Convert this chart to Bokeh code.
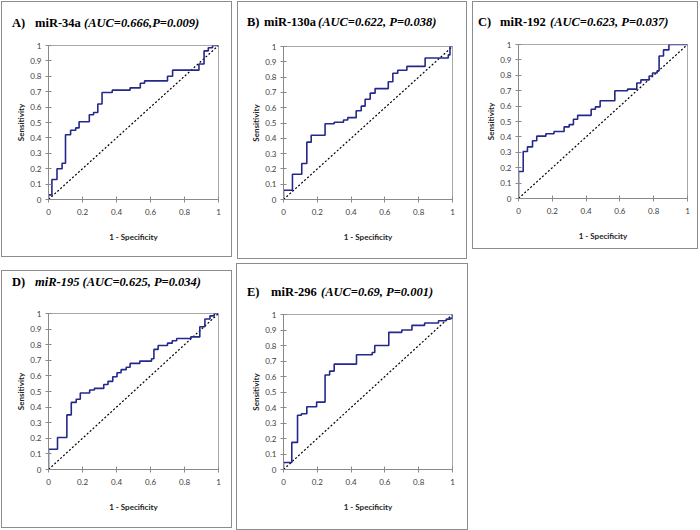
from bokeh.plotting import figure
from bokeh.layouts import column, row
from bokeh.models import Range1d, FixedTicker, NumeralTickFormatter, Spacer, Div
from bokeh.embed import file_html
from bokeh.resources import INLINE

# ---------------- data ----------------
a_fpr = [0, 0, 0.02, 0.05, 0.08, 0.10, 0.13, 0.16, 0.18, 0.24, 0.265, 0.29, 0.315, 0.375,
         0.48, 0.54, 0.565, 0.70, 0.73, 0.885, 0.915, 0.94, 0.965, 1.0]
a_tpr = [0, 0.03, 0.13, 0.20, 0.235, 0.42, 0.45, 0.465, 0.505, 0.55, 0.565, 0.62, 0.695, 0.71,
         0.725, 0.755, 0.77, 0.80, 0.84, 0.88, 0.965, 0.985, 1.0, 1.0]

b_fpr = [0, 0, 0.053, 0.108, 0.138, 0.164, 0.246, 0.30, 0.355, 0.38, 0.43, 0.46, 0.483, 0.513,
         0.542, 0.62, 0.647, 0.676, 0.73, 0.838, 0.975, 0.985, 1.0]
b_tpr = [0, 0.06, 0.165, 0.235, 0.375, 0.42, 0.495, 0.505, 0.52, 0.535, 0.58, 0.61, 0.655, 0.695,
         0.725, 0.77, 0.825, 0.845, 0.87, 0.925, 0.945, 1.0, 1.0]

c_fpr = [0, 0, 0.028, 0.053, 0.083, 0.108, 0.162, 0.21, 0.27, 0.30, 0.325, 0.35, 0.43, 0.455,
         0.483, 0.57, 0.645, 0.70, 0.724, 0.773, 0.793, 0.82, 0.832, 0.858, 0.89, 1.0]
c_tpr = [0, 0.175, 0.305, 0.335, 0.375, 0.405, 0.42, 0.435, 0.465, 0.48, 0.515, 0.54, 0.58, 0.595,
         0.635, 0.70, 0.71, 0.75, 0.77, 0.795, 0.815, 0.83, 0.925, 0.965, 1.0, 1.0]

d_fpr = [0, 0, 0.053, 0.108, 0.134, 0.163, 0.187, 0.242, 0.27, 0.325, 0.35, 0.378, 0.403, 0.427,
         0.457, 0.48, 0.537, 0.606, 0.62, 0.645, 0.70, 0.728, 0.754, 0.837, 0.89, 0.92, 0.95,
         0.975, 1.0]
d_tpr = [0, 0.13, 0.205, 0.35, 0.43, 0.45, 0.49, 0.51, 0.52, 0.545, 0.565, 0.595, 0.62, 0.64,
         0.655, 0.68, 0.695, 0.71, 0.77, 0.795, 0.81, 0.825, 0.84, 0.85, 0.915, 0.965, 0.985,
         1.0, 1.0]

e_fpr = [0, 0, 0.049, 0.083, 0.106, 0.138, 0.196, 0.246, 0.273, 0.30, 0.432, 0.525, 0.54, 0.623,
         0.70, 0.76, 0.835, 0.917, 0.963, 0.986, 1.0]
e_tpr = [0, 0.045, 0.175, 0.35, 0.36, 0.405, 0.435, 0.61, 0.635, 0.68, 0.74, 0.755, 0.80, 0.885,
         0.90, 0.93, 0.945, 0.96, 0.97, 0.975, 1.0]

ref_x = [0, 1]
ref_y = [0, 1]

x_ticks = [0, 0.2, 0.4, 0.6, 0.8, 1]
y_ticks = [0, 0.1, 0.2, 0.3, 0.4, 0.5, 0.6, 0.7, 0.8, 0.9, 1]
x_label = "1 - Specificity"
y_label = "Sensitivity"

a_title = [("A)", "normal"), ("miR-34a", "normal"), ("(AUC=0.666,P=0.009)", "italic")]
b_title = [("B)", "normal"), ("miR-130a", "normal"), ("(AUC=0.622, P=0.038)", "italic")]
c_title = [("C)", "normal"), ("miR-192", "normal"), ("(AUC=0.623, P=0.037)", "italic")]
d_title = [("D)", "normal"), ("miR-195 (AUC=0.625, P=0.034)", "italic")]
e_title = [("E)", "normal"), ("miR-296", "normal"), ("(AUC=0.69, P=0.001)", "italic")]

# ---------------- styling / layout ----------------
CURVE = "#24288A"
AXIS = "#8A8A8A"
FRAME = "#A8A8A8"
PANEL = "#8C8C8C"
TICKTXT = "#404040"
SANS = "Lato"
SERIF = "Liberation Serif"
TITLE_PX = 12.5


def bar(w, h):
    return Spacer(width=w, height=h, margin=0, styles={"background-color": PANEL})


def title_div(title, wi, T, cy, xs):
    top = cy - TITLE_PX / 2
    spans = "".join(
        '<span style="position:absolute;left:%gpx;top:%gpx;font-style:%s;">%s</span>'
        % (x, top, style, txt) for (txt, style), x in zip(title, xs))
    html = ('<div style="position:relative;width:%dpx;height:%dpx;overflow:hidden;'
            "font-family:'%s';font-weight:bold;font-size:%gpx;line-height:1;"
            'white-space:nowrap;color:black;background:white;">%s</div>'
            % (wi, T, SERIF, TITLE_PX, spans))
    return Div(text=html, width=wi, height=T, margin=0,
               styles={"background-color": "white"})


def panel(fpr, tpr, title, box, frame, title_y, title_xs):
    x0, y0, x1, y1 = box            # outer panel box (page px, inclusive)
    fx0, fy0, fx1, fy1 = frame       # plot-area box (page px)
    W = x1 - x0 + 1
    H = y1 - y0 + 1
    wi = W - 2
    ix, iy = x0 + 1, y0 + 1
    mbt = 9
    T = (fy0 - mbt) - iy

    t = title_div(title, wi, T, title_y - iy, [x - ix for x in title_xs])

    hp = H - 2 - T
    mbl = fx0 - ix
    fw = fx1 - fx0
    mbr = wi - mbl - fw
    fh = fy1 - fy0
    mbb = hp - mbt - fh
    p = figure(width=wi, height=hp, x_range=Range1d(0, 1), y_range=Range1d(0, 1),
               toolbar_location=None, output_backend="svg",
               min_border_left=mbl, min_border_right=mbr,
               min_border_top=mbt, min_border_bottom=mbb)
    p.background_fill_color = "white"
    p.border_fill_color = "white"
    p.outline_line_color = FRAME
    p.outline_line_width = 1
    p.grid.visible = False

    for ax in (p.xaxis[0], p.yaxis[0]):
        ax.axis_line_color = AXIS
        ax.major_tick_line_color = AXIS
        ax.minor_tick_line_color = None
        ax.major_tick_in = 3
        ax.major_tick_out = 3
        ax.major_label_text_font = SANS
        ax.major_label_text_font_size = "8px"
        ax.major_label_text_color = TICKTXT
        ax.axis_label_text_font = SANS
        ax.axis_label_text_font_size = "8px"
        ax.axis_label_text_font_style = "bold"
        ax.axis_label_text_color = "#222222"
        ax.formatter = NumeralTickFormatter(format="0.[0]")
    p.xaxis.ticker = FixedTicker(ticks=x_ticks)
    p.yaxis.ticker = FixedTicker(ticks=y_ticks)
    p.xaxis.axis_label = x_label
    p.yaxis.axis_label = y_label
    p.xaxis.major_label_standoff = 6
    p.yaxis.major_label_standoff = 4
    p.xaxis.axis_label_standoff = 14
    p.yaxis.axis_label_standoff = 1

    p.line(ref_x, ref_y, line_color="black", line_width=1.2, line_dash="2 2")
    p.step(fpr, tpr, mode="after", line_color=CURVE, line_width=1.6)

    inner = column(t, p)
    return column(bar(W, 1), row(bar(1, H - 2), inner, bar(1, H - 2)), bar(W, 1))


pA = panel(a_fpr, a_tpr, a_title, (1, 1, 231, 256), (48, 45, 218, 199), 23, [12, 35, 84])
pB = panel(b_fpr, b_tpr, b_title, (237, 1, 466, 258), (283, 46, 452, 199), 22, [247, 264, 318])
pC = panel(c_fpr, c_tpr, c_title, (472, 1, 697, 248), (518, 44, 687, 198), 22, [478, 500, 550])
pD = panel(d_fpr, d_tpr, d_title, (1, 270, 231, 527), (48, 313, 218, 469), 282, [12, 35])
pE = panel(e_fpr, e_tpr, e_title, (236, 263, 467, 529), (283, 314, 452, 469), 292, [247, 271, 321])

top = row(Spacer(width=1), pA, Spacer(width=5), pB, Spacer(width=5), pC)
bottom = row(Spacer(width=1), column(Spacer(height=11), pD), Spacer(width=4),
             column(Spacer(height=4), pE))
layout = column(Spacer(height=1), top, bottom)

open("out.html", "w").write(file_html(layout, INLINE))
